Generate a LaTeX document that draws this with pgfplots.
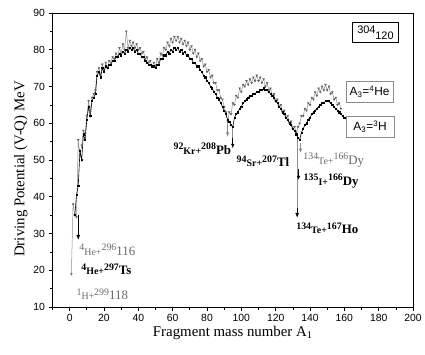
\documentclass[border=0pt]{standalone}
\usepackage{fontspec}
\setmainfont{Liberation Serif}
\setsansfont{Liberation Sans}
\usepackage{pgfplots}
\pgfplotsset{compat=1.18}
\usetikzlibrary{arrows.meta}
\definecolor{gr}{RGB}{140,140,140}
\definecolor{grm}{RGB}{100,100,100}
\definecolor{grtxt}{RGB}{105,105,105}
\newcommand{\sm}{\fontsize{10}{11}\selectfont}
\newcommand{\iso}[4]{\raisebox{4.5pt}{\sm #1}{\sm #2}\raisebox{4.5pt}{\sm #3}#4}

\pgfplotstableread{
x y
1 19
2 38
3 35
4 34.5
5 55.5
6 51
7 54
8 58
9 57
10 62
11 66
12 63
13 67
14 68
15 69
16 74
17 75
18 73
19 76
20 74
21 76.5
22 75
23 77
24 76.5
25 78
26 77.5
27 79
28 78
29 80.5
30 79
31 81.5
32 80
33 85
34 80.5
35 82.5
36 81
37 82
38 80.5
39 81.5
40 80
41 80.5
42 79
43 79.5
44 77.5
45 78
46 76.5
47 77
48 75.5
49 76.5
50 75.5
51 77.5
52 76.5
53 79
54 78.5
55 80.5
56 80
57 82
58 81
59 83
60 82
61 83.5
62 82.5
63 83.5
64 82
65 83
66 81.5
67 82.5
68 81
69 82
70 80
71 81
72 79
73 80
74 78
75 79
76 77
77 77.5
78 75.5
79 76
80 74
81 74.5
82 72.5
83 73
84 71
85 71
86 69
87 69
88 67
89 66.5
90 64.5
91 63
92 60.5
93 63
94 62.5
95 65.5
96 65
97 67.5
98 67
99 69.5
100 68.5
101 70.5
102 70
103 71.5
104 70.5
105 72
106 71
107 72.5
108 71.5
109 73
110 71.5
111 72.5
112 71
113 72
114 70
115 71
116 69
117 69.5
118 67.5
119 68
120 66
121 66.5
122 64.5
123 65
124 63
125 63.5
126 61.5
127 62
128 60
129 60.5
130 58.5
131 59
132 57.5
133 59
134 60
135 62
136 62
137 64
138 63.5
139 65.5
140 65
141 67
142 66.5
143 68.5
144 67.5
145 69.5
146 68.5
147 70
148 69
149 70.5
150 69
151 70
152 68
153 68.5
154 66.5
155 67
156 65
157 65.5
158 64
}\he

\pgfplotstableread{
x y
3 35
4 40.5
5 43
6 52.5
7 50
8 57
9 55.5
10 61
11 64.5
12 62
13 66
14 67
15 68
16 73
17 74
18 72.5
19 75
20 74
21 75.5
22 75
23 76
24 76
25 77
26 77
27 78
28 78
29 79
30 78.5
31 79.5
32 79
33 80
34 79.5
35 80.5
36 80
37 80.5
38 79.5
39 80
40 79
41 79
42 78
43 78
44 77
45 76.5
46 76
47 76
48 75.5
49 75.5
50 75
51 76
52 76
53 77.5
54 77.5
55 78.5
56 78.5
57 79.5
58 79
59 80
60 79.5
61 80.5
62 80
63 80.5
64 79.5
65 80
66 79
67 79.5
68 78.5
69 78.5
70 77.5
71 77.5
72 76.5
73 76.5
74 75.5
75 75.5
76 74.5
77 74
78 73
79 72.5
80 71.5
81 71
82 70
83 69.5
84 68.5
85 68
86 67
87 66.5
88 65.5
89 64.5
90 63.5
91 62.5
92 61
93 60.5
94 59.5
95 59
96 61.5
97 62.5
98 63
99 64
100 64.5
101 65.5
102 66
103 66.5
104 67
105 67.5
106 67.5
107 68
108 68
109 68.5
110 68.5
111 69
112 69
113 69.5
114 69
115 69
116 68.5
117 68
118 67.5
119 67
120 66
121 65.5
122 64.5
123 64
124 63
125 62.5
126 61.5
127 61
128 60
129 59.5
130 58.5
131 58
132 57
133 56
134 55.5
135 57.5
136 58.5
137 59.5
138 60
139 61
140 61.5
141 62.5
142 63
143 63.5
144 64
145 64.5
146 65
147 65.5
148 65.5
149 66
150 66
151 66
152 65.5
153 65
154 64.5
155 64
156 63.5
157 63
158 62.5
159 62
160 61.5
}\hh

\begin{document}
\begin{tikzpicture}
\begin{axis}[
  scale only axis,
  width=364pt, height=297pt,
  xmin=-10, xmax=200, ymin=10, ymax=90,
  xtick={0,20,...,200}, ytick={10,20,...,90},
  minor xtick={-10,10,30,...,190},
  minor ytick={15,25,...,85},
  xtick pos=bottom, ytick pos=left,
  tick align=outside,
  major tick length=4pt, minor tick length=2.5pt,
  axis line style={line width=0.9pt},
  every tick/.style={black, line width=0.7pt},
  /pgf/number format/assume math mode=true,
  tick label style={font=\sffamily\fontsize{10.5}{12}\selectfont},
  xlabel={Fragment mass number A\textsubscript{1}},
  ylabel={Driving Potential (V-Q) MeV},
  label style={font=\fontsize{15}{17}\selectfont},
  xlabel style={yshift=3pt},
  ylabel style={yshift=-1pt, xshift=-9pt},
  clip=false,
]
\addplot[gr, line width=0.5pt, mark=triangle*, mark size=1pt, mark options={rotate=180, fill=grm, draw=grm}] table {\he};
\addplot[black, line width=0.6pt, mark=square*, mark size=0.6pt] table {\hh};

% arrows
\draw[black, line width=0.6pt, -{Latex[length=5pt,width=4pt]}] (axis cs:5,35) -- (axis cs:5,28.3);
\draw[gr, line width=0.6pt, -{Latex[length=4.5pt,width=3.5pt]}] (axis cs:92,60) -- (axis cs:92,56.3);
\draw[gr, line width=0.8pt] (axis cs:95,59) -- (axis cs:95,55);
\draw[black, line width=0.6pt, -{Latex[length=4.5pt,width=3.5pt]}] (axis cs:95,56) -- (axis cs:95,53.2);
\draw[gr, line width=1.2pt] (axis cs:132.5,56) -- (axis cs:132.5,36.5);
\draw[black, line width=0.6pt, -{Latex[length=5pt,width=4pt]}] (axis cs:132.5,37) -- (axis cs:132.5,34.3);
\draw[gr, line width=0.5pt, -{Latex[length=4pt,width=3.5pt]}] (axis cs:134.5,54.5) -- (axis cs:134.5,52);
\draw[black, line width=0.5pt, -{Latex[length=4pt,width=3.5pt]}] (axis cs:133.3,47.5) -- (axis cs:133.3,44.6);

% labels
\node[anchor=west, grtxt, inner sep=0pt, font=\fontsize{13}{14}\selectfont] at (axis cs:5.6,25.6) {\iso{4}{He+}{296}{116}};
\node[anchor=west, black, inner sep=0pt, font=\bfseries\fontsize{13}{14}\selectfont] at (axis cs:6.7,20.3) {\iso{4}{He+}{297}{Ts}};
\node[anchor=west, grtxt, inner sep=0pt, font=\fontsize{13}{14}\selectfont] at (axis cs:3.9,13.5) {\iso{1}{H+}{299}{118}};
\node[anchor=west, black, inner sep=0pt, font=\bfseries\fontsize{13}{14}\selectfont] at (axis cs:60.4,53.1) {\iso{92}{Kr+}{208}{Pb}};
\node[anchor=west, black, inner sep=0pt, font=\bfseries\fontsize{13}{14}\selectfont] at (axis cs:97.2,49.6) {\iso{94}{Sr+}{207}{Tl}};
\node[anchor=west, grtxt, inner sep=0pt, font=\fontsize{13}{14}\selectfont] at (axis cs:136,50) {\iso{134}{Te+}{166}{Dy}};
\node[anchor=west, black, inner sep=0pt, font=\bfseries\fontsize{13}{14}\selectfont] at (axis cs:136.2,44.3) {\iso{135}{I+}{166}{Dy}};
\node[anchor=west, black, inner sep=0pt, font=\bfseries\fontsize{13}{14}\selectfont] at (axis cs:131.9,31.4) {\iso{134}{Te+}{167}{Ho}};

% boxes
\node[draw=black, line width=0.9pt, minimum width=46pt, minimum height=20pt, inner sep=1pt, font=\sffamily\fontsize{11}{12}\selectfont] at (axis cs:178.1,84.6) {\raisebox{3pt}{304}\raisebox{-2.5pt}{120}};
\node[draw=gr, line width=0.6pt, minimum width=48pt, minimum height=21pt, inner sep=1pt, font=\sffamily\fontsize{12}{13}\selectfont] at (axis cs:174.7,68.6) {A\textsubscript{3}=\textsuperscript{4}He};
\node[draw=gr, line width=0.6pt, minimum width=48pt, minimum height=21pt, inner sep=1pt, font=\sffamily\fontsize{12}{13}\selectfont] at (axis cs:175,59.1) {A\textsubscript{3}=\textsuperscript{3}H};

\path (axis description cs:-0.1456,-0.1616) (axis description cs:1.022,1.044);
\end{axis}
\end{tikzpicture}
\end{document}
